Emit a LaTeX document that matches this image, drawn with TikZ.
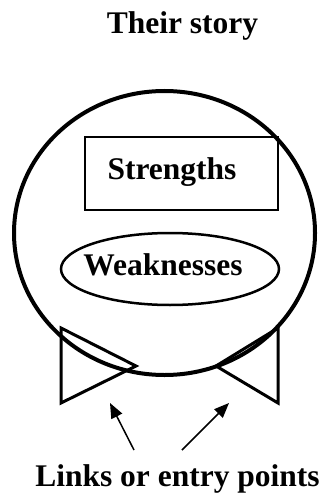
\documentclass[tikz,border=0pt]{standalone}
\usepackage{fontspec}
\setmainfont{Liberation Serif}
\usepackage{tikz}
\usetikzlibrary{shapes.geometric,arrows.meta}
\tikzset{
    testo/.style={font=\bfseries\fontsize{31.5}{38}\selectfont, inner sep=0pt, anchor=base},
    freccia/.style={line width=1.5pt, -{Triangle[length=15pt,width=12pt]}},
    fiocco/.style={line width=3pt, line join=miter}
}

\begin{document}
\begin{tikzpicture}[x=1pt, y=-1pt]
        \useasboundingbox (0,0) rectangle (326,494);
        % Titolo
        \node[testo] (titolo) at (182.5,33.5) {Their story};
        % Cerchio grande
        \draw[line width=4pt] (164.5,233) ellipse [x radius=150.5pt, y radius=142pt];
        % Punti forti
        \node[draw, line width=2pt, minimum width=193pt, minimum height=73pt] (riquadro) at (181.5,173.5) {};
        \node[testo] (forti) at (172,179) {Strengths};
        % Punti deboli
        \node[draw, ellipse, line width=2.5pt, minimum width=218pt, minimum height=72pt] (ovale) at (170,269) {};
        \node[testo] (deboli) at (163,275) {Weaknesses};
        % Entrate
        \coordinate (sx) at (110,403);
        \coordinate (dx) at (229,403);
        \draw[fiocco] (61,328) -- (136,366) -- (61,403) -- cycle;
        \draw[fiocco] (278,328) -- (216,366) -- (278,403) -- cycle;
        % Etichetta
        \node[testo] (entrate) at (177.5,486) {Links or entry points};
        \coordinate (cs) at (134,450);
        \coordinate (cd) at (182,450);
        \draw[freccia] (cs) -- (sx);
        \draw[freccia] (cd) -- (dx);
    \end{tikzpicture}
\end{document}
